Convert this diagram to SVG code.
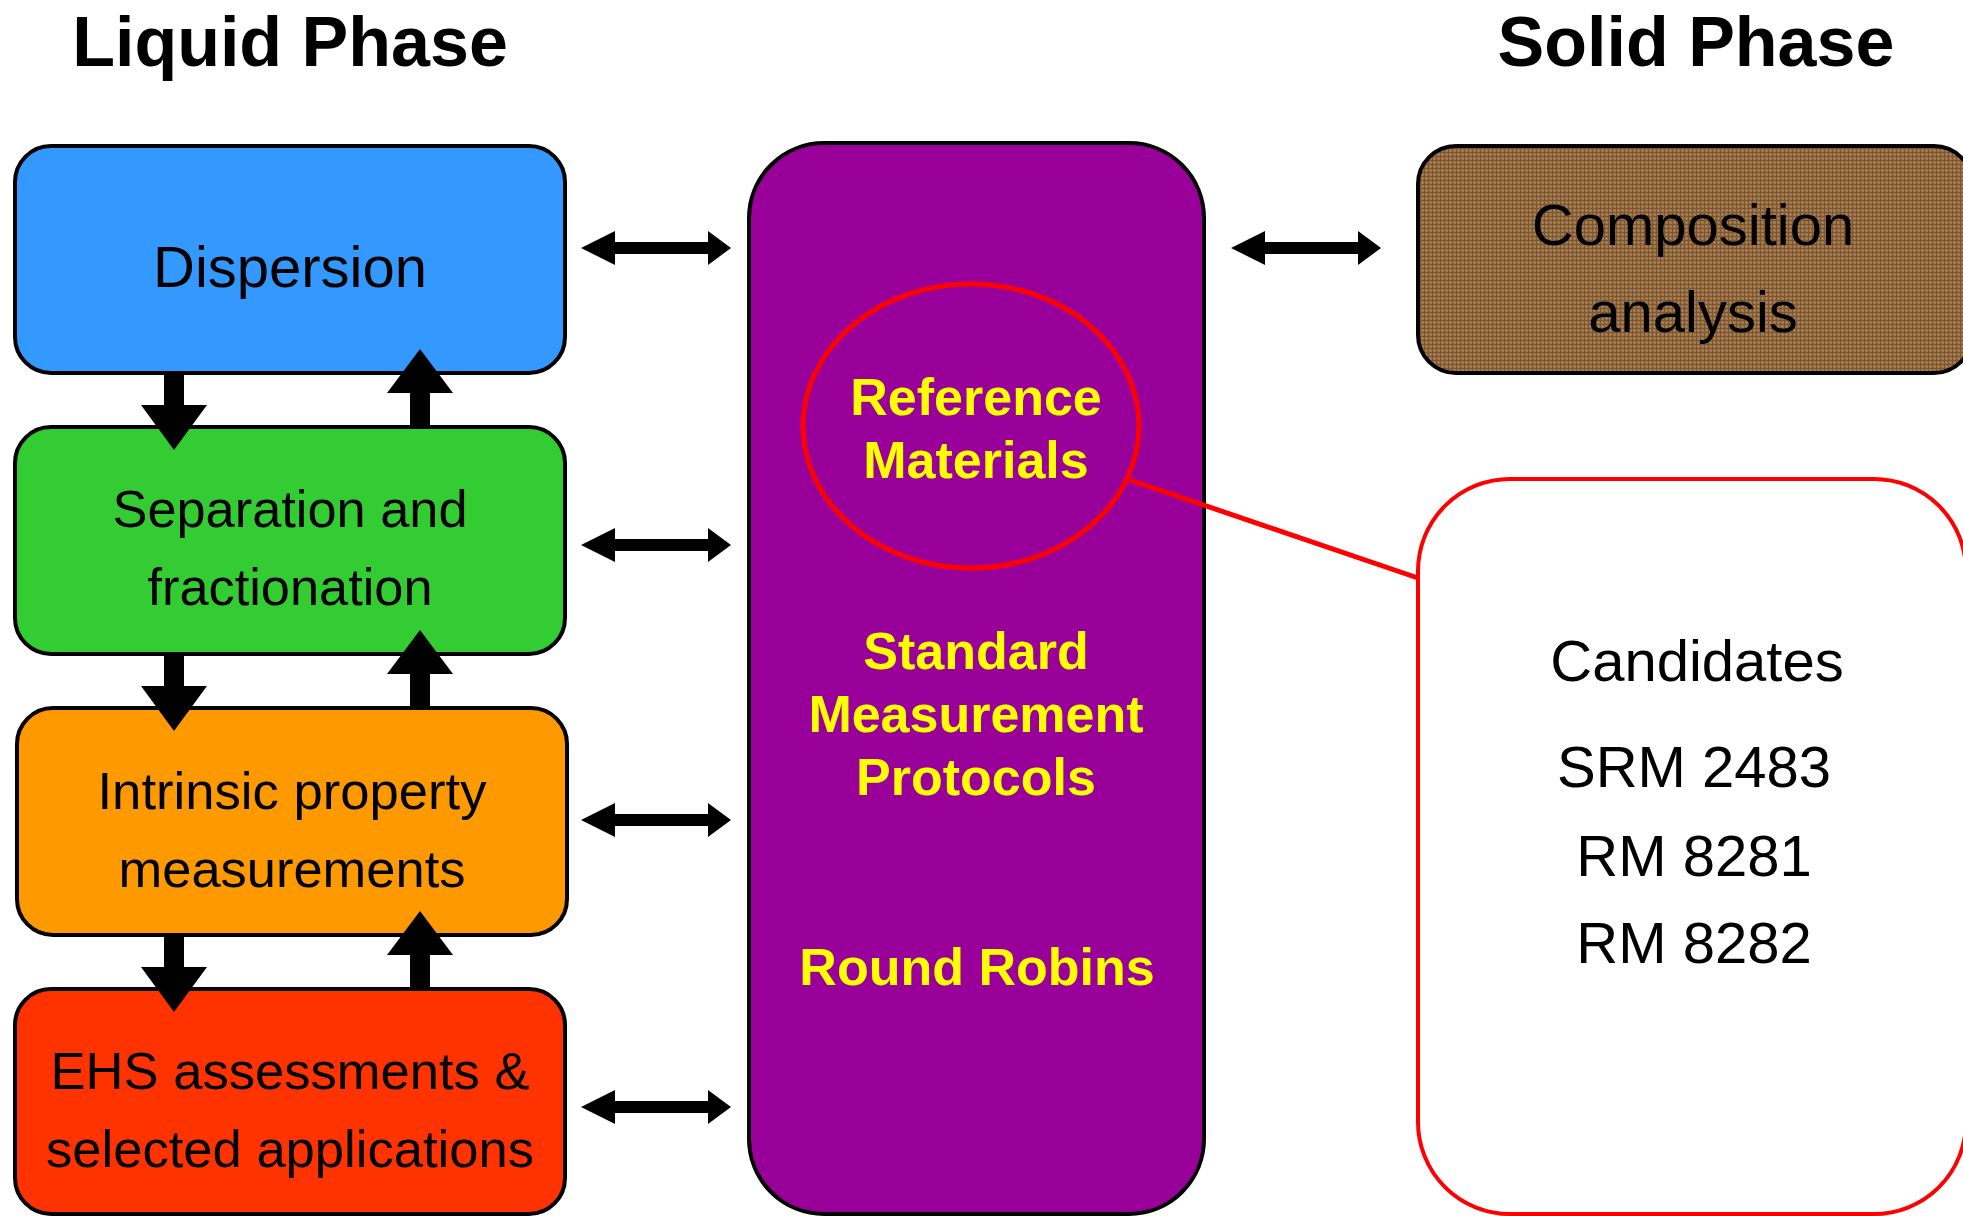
<svg xmlns="http://www.w3.org/2000/svg" width="1963" height="1216" viewBox="0 0 1963 1216">
<style>
.box{stroke:#000;stroke-width:4}
.lbl{font-family:"Liberation Sans",Arial,sans-serif;font-size:52px;fill:#000;text-anchor:middle}
.big{font-size:58px}
.yel{font-family:"Liberation Sans",Arial,sans-serif;font-size:52px;font-weight:bold;fill:#FFFF00;text-anchor:middle}
.title{font-family:"Liberation Sans",Arial,sans-serif;font-size:70px;font-weight:bold;fill:#000;text-anchor:middle}
.arr{fill:#000}
</style>
<defs>
<pattern id="weave" width="4" height="4" patternUnits="userSpaceOnUse">
<rect width="4" height="4" fill="#9C7348"/>
<rect x="0" y="0" width="4" height="1" fill="#7B5631"/>
<rect x="0" y="0" width="1" height="4" fill="#7B5631"/>
<rect x="2" y="2" width="1" height="1" fill="#B99469"/>
</pattern>
<path id="dbl" d="M0,0 L34,-17 L34,-6 L127,-6 L127,-17 L150,0 L127,17 L127,6 L34,6 L34,17 Z"/>
<path id="down" d="M-10,0 L10,0 L10,32 L33,32 L0,77 L-33,32 L-10,32 Z"/>
<path id="up" d="M-10,0 L10,0 L10,-34 L33,-34 L0,-78 L-33,-34 L-10,-34 Z"/>
</defs>
<rect width="1963" height="1216" fill="#fff"/>

<text class="title" x="290" y="66">Liquid Phase</text>
<text class="title" x="1696" y="66">Solid Phase</text>

<g id="dispersion">
<rect class="box" x="15" y="146" width="550" height="227" rx="36" fill="#3399FF"/>
<text class="lbl big" x="290" y="287">Dispersion</text>
</g>
<g id="separation">
<rect class="box" x="15" y="427" width="550" height="227" rx="36" fill="#33CC33"/>
<text class="lbl" x="290" y="527" textLength="355" lengthAdjust="spacingAndGlyphs">Separation and</text>
<text class="lbl" x="290" y="605" textLength="285" lengthAdjust="spacingAndGlyphs">fractionation</text>
</g>
<g id="intrinsic">
<rect class="box" x="17" y="708" width="550" height="227" rx="36" fill="#FF9900"/>
<text class="lbl" x="292" y="809" textLength="389" lengthAdjust="spacingAndGlyphs">Intrinsic property</text>
<text class="lbl" x="292" y="887" textLength="347" lengthAdjust="spacingAndGlyphs">measurements</text>
</g>
<g id="ehs">
<rect class="box" x="15" y="989" width="550" height="225" rx="36" fill="#FF3300"/>
<text class="lbl" x="290" y="1089" textLength="479" lengthAdjust="spacingAndGlyphs">EHS assessments &amp;</text>
<text class="lbl" x="290" y="1167" textLength="488" lengthAdjust="spacingAndGlyphs">selected applications</text>
</g>

<g id="center">
<rect class="box" x="749" y="143" width="455" height="1071" rx="75" fill="#990099"/>
<ellipse cx="971" cy="426" rx="168" ry="142" fill="none" stroke="#FF0000" stroke-width="5"/>
<text class="yel" x="976" y="415">Reference</text>
<text class="yel" x="976" y="478">Materials</text>
<text class="yel" x="976" y="669">Standard</text>
<text class="yel" x="976" y="732">Measurement</text>
<text class="yel" x="976" y="795">Protocols</text>
<text class="yel" x="977" y="985">Round Robins</text>
</g>

<g id="composition">
<rect class="box" x="1418" y="146" width="554" height="227" rx="38" fill="url(#weave)"/>
<text class="lbl big" x="1693" y="245">Composition</text>
<text class="lbl big" x="1693" y="332">analysis</text>
</g>

<g id="candidates">
<rect x="1418" y="479" width="548" height="735" rx="92" fill="#fff" stroke="#FF0000" stroke-width="4"/>
<text class="lbl big" x="1697" y="681">Candidates</text>
<text class="lbl big" x="1694" y="787">SRM 2483</text>
<text class="lbl big" x="1694" y="876">RM 8281</text>
<text class="lbl big" x="1694" y="963">RM 8282</text>
</g>

<g id="connectors" class="arr">
<use href="#down" x="174" y="373"/>
<use href="#up" x="420" y="427"/>
<use href="#down" x="174" y="654"/>
<use href="#up" x="420" y="708"/>
<use href="#down" x="174" y="935"/>
<use href="#up" x="420" y="989"/>
<use href="#dbl" x="581" y="248"/>
<use href="#dbl" x="581" y="545"/>
<use href="#dbl" x="581" y="820"/>
<use href="#dbl" x="581" y="1107"/>
<use href="#dbl" x="1231" y="248"/>
<line x1="1130" y1="480" x2="1418" y2="578" stroke="#FF0000" stroke-width="5"/>
</g>
</svg>
